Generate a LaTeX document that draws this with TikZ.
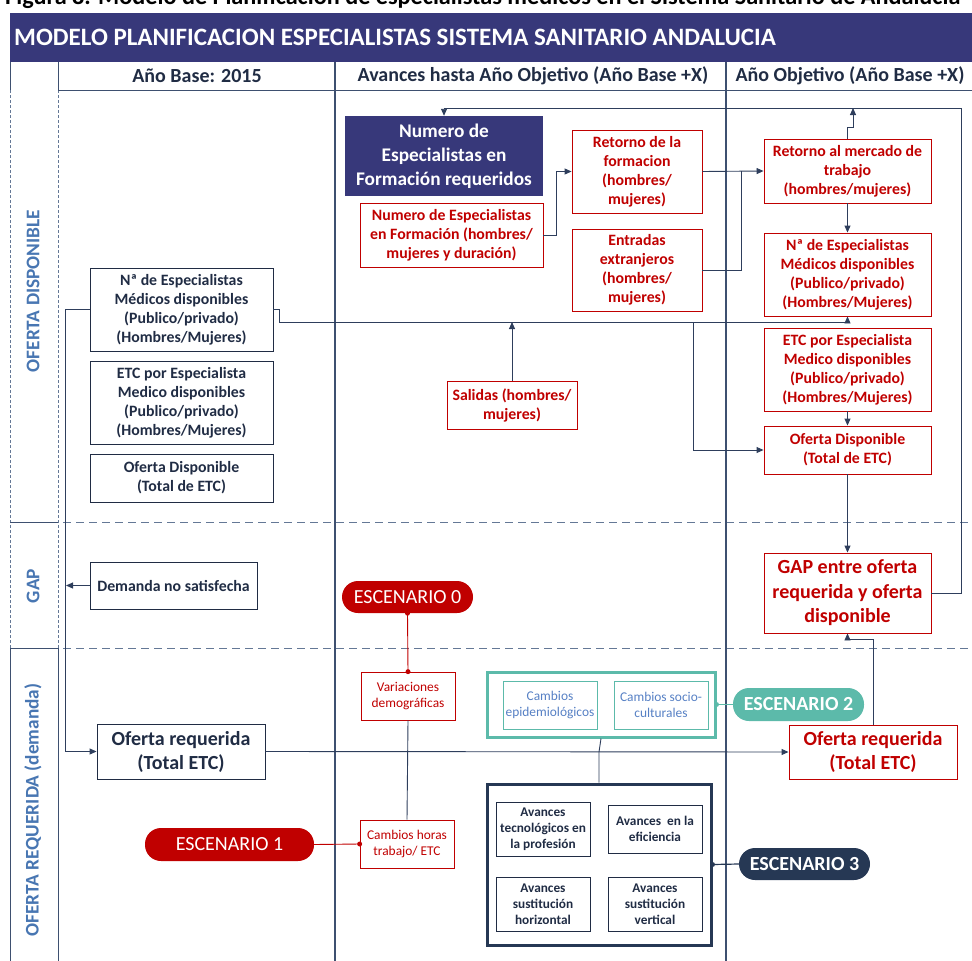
\documentclass[tikz,border=0pt]{standalone}
\usepackage{fontspec}
\setmainfont{Carlito}
\usetikzlibrary{arrows.meta}
\definecolor{band}{RGB}{55,56,122}
\definecolor{ink}{RGB}{32,44,68}
\definecolor{rule}{RGB}{62,80,112}
\definecolor{lanedash}{RGB}{100,120,150}
\definecolor{scred}{RGB}{192,0,0}
\definecolor{lane}{RGB}{72,118,178}
\definecolor{teal}{RGB}{92,186,170}
\definecolor{tealtxt}{RGB}{86,128,196}
\definecolor{navy}{RGB}{38,56,84}
\definecolor{wire}{RGB}{46,62,92}

\tikzset{
  every node/.style={inner sep=0pt, align=center},
  sz/.style 2 args={minimum width=#1pt, minimum height=#2pt},
  basebox/.style={draw=ink, line width=0.9pt, text=ink, font=\bfseries\fontsize{15.8}{19}\selectfont},
  redbox/.style={draw=scred, line width=0.9pt, text=scred, font=\bfseries\fontsize{15.8}{19}\selectfont},
  bigred/.style={redbox, font=\bfseries\fontsize{20}{24.5}\selectfont},
  bigink/.style={basebox, font=\bfseries\fontsize{20}{24}\selectfont},
  smallred/.style={draw=scred, line width=0.7pt, text=scred, font=\fontsize{13.4}{16}\selectfont},
  smallteal/.style={draw=teal, line width=0.7pt, text=tealtxt, font=\fontsize{13.4}{16}\selectfont},
  smallink/.style={draw=ink, line width=0.8pt, text=ink, font=\bfseries\fontsize{13.3}{16}\selectfont},
  pill/.style={rounded corners=16pt, text=white},
  wirearrow/.style={draw=wire, line width=0.9pt, -{Triangle[length=7pt,width=6pt]}},
  wireline/.style={draw=wire, line width=0.9pt},
  dot/.style={circle, fill=#1, minimum size=5pt, inner sep=0pt},
  lanelabel/.style={text=lane, font=\bfseries\fontsize{19.3}{22}\selectfont, rotate=90},
  colhead/.style={text=ink, font=\bfseries\fontsize{20}{22}\selectfont},
}

\begin{document}
\begin{tikzpicture}[x=1pt, y=-1pt]
\useasboundingbox (0,0) rectangle (972,961);
\clip (0,0) rectangle (972,961);

% caption line above the frame
\node[anchor=base west, font=\bfseries\fontsize{24.2}{28}\selectfont] (caption) at (5,4.5)
  {Figura 8. Modelo de Planificacion de especialistas medicos en el Sistema Sanitario de Andalucia};

% title band
\fill[band] (10,13) rectangle (972,62);
\node[anchor=west, text=white, font=\bfseries\fontsize{25}{28}\selectfont] (title) at (14,37.5)
  {MODELO PLANIFICACION ESPECIALISTAS SISTEMA SANITARIO ANDALUCIA};

% swimlane frame
\draw[rule, line width=1pt] (10,62) -- (10,90) (58,62) -- (58,90)
  (10,648) -- (10,961) (58,648) -- (58,961);
\draw[lanedash, line width=0.9pt, dash pattern=on 3pt off 2pt]
  (10,90) -- (10,648) (58,90) -- (58,648);
\draw[rule, line width=1pt] (10,522) -- (58,522) (10,648) -- (58,648);
\draw[lanedash, line width=1pt, dash pattern=on 8pt off 5pt]
  (63,522) -- (972,522) (63,648) -- (972,648);
\draw[rule, line width=1pt] (58,90) -- (972,90);
\draw[rule, line width=1.3pt] (335,62) -- (335,961) (726,62) -- (726,961);

% column headings
\node[colhead] (h1) at (197,76) {Año Base: 2015};
\node[colhead] (h2) at (533,76) {Avances hasta Año Objetivo (Año Base +X)};
\node[colhead] (h3) at (850,76) {Año Objetivo (Año Base +X)};

% lane headings
\node[lanelabel] (l1) at (33,291) {OFERTA DISPONIBLE};
\node[lanelabel] (l2) at (33,586) {GAP};
\node[lanelabel] (l3) at (33,810) {OFERTA REQUERIDA (demanda)};

% base year column
\node[basebox, sz={183}{83}] (lN1) at (181.5,309.5)
  {Nª de Especialistas\\Médicos disponibles\\(Publico/privado)\\(Hombres/Mujeres)};
\node[basebox, sz={183}{83}] (lN2) at (181.5,402.5)
  {ETC por Especialista\\Medico disponibles\\(Publico/privado)\\(Hombres/Mujeres)};
\node[basebox, sz={183}{48}] (lN3) at (181.5,478)
  {Oferta Disponible\\(Total de ETC)};
\node[basebox, sz={167}{47}] (lDem) at (173.5,585.5) {Demanda no satisfecha};
\node[bigink, sz={168}{55}] (lOReq) at (181,751.5) {Oferta requerida\\(Total ETC)};

% progress column
\node[fill=band, text=white, font=\bfseries\fontsize{19.3}{24}\selectfont, sz={198}{80}] (numReq) at (444,156)
  {Numero de\\Especialistas en\\Formación requeridos};
\node[redbox, sz={183}{64}] (numForm) at (451.5,235)
  {Numero de Especialistas\\en Formación (hombres/\\mujeres y duración)};
\node[redbox, sz={130}{83}] (retForm) at (637,171.5)
  {Retorno de la\\formacion\\(hombres/\\mujeres)};
\node[redbox, sz={130}{82}] (entr) at (637,270)
  {Entradas\\extranjeros\\(hombres/\\mujeres)};
\node[redbox, sz={130}{48}] (sal) at (512,405) {Salidas (hombres/\\mujeres)};

% target year column
\node[redbox, sz={167}{64}] (rRet) at (847.5,171)
  {Retorno al mercado de\\trabajo\\(hombres/mujeres)};
\node[redbox, sz={167}{83}] (rN) at (847.5,274.5)
  {Nª de Especialistas\\Médicos disponibles\\(Publico/privado)\\(Hombres/Mujeres)};
\node[redbox, sz={167}{83}] (rETC) at (847.5,369.5)
  {ETC por Especialista\\Medico disponibles\\(Publico/privado)\\(Hombres/Mujeres)};
\node[redbox, sz={167}{48}] (rOD) at (847.5,450)
  {Oferta Disponible\\(Total de ETC)};
\node[bigred, sz={167}{80}] (rGAP) at (847.5,593)
  {GAP entre oferta\\requerida y oferta\\disponible};
\node[bigred, sz={168}{54}] (rOReq) at (873,752) {Oferta requerida\\(Total ETC)};

% scenario groups
\node[draw=teal, line width=3pt, sz={228}{65}] (tealGrp) at (601,704.5) {};
\node[smallteal, sz={94}{48}] (camEpi) at (550,705) {Cambios\\epidemiológicos};
\node[smallteal, sz={94}{48}] (camSoc) at (661,705) {Cambios socio-\\culturales};
\node[draw=navy, line width=3pt, sz={224}{161}] (navyGrp) at (599,864.5) {};
\node[smallink, sz={94}{54}] (av1) at (543,829) {Avances\\tecnológicos en\\la profesión};
\node[smallink, sz={94}{48}] (av2) at (655,829) {Avances\ \ en la\\eficiencia};
\node[smallink, sz={94}{54}] (av3) at (543,904) {Avances\\sustitución\\horizontal};
\node[smallink, sz={94}{54}] (av4) at (655,904) {Avances\\sustitución\\vertical};

\node[smallred, sz={94}{48}] (varDem) at (408,696) {Variaciones\\demográficas};
\node[smallred, sz={94}{48}] (camHor) at (407,844) {Cambios horas\\trabajo/ ETC};

% scenario tags
\node[pill, fill=scred, font=\fontsize{20}{22}\selectfont, sz={131}{32}] (esc0) at (407.5,597) {ESCENARIO 0};
\node[pill, fill=scred, font=\fontsize{20}{22}\selectfont, sz={169}{33}] (esc1) at (229.5,844.5) {ESCENARIO 1};
\node[pill, fill=teal, font=\bfseries\fontsize{20}{22}\selectfont, sz={131}{33}] (esc2) at (798.5,704.5) {ESCENARIO 2};
\node[pill, fill=navy, font=\bfseries\fontsize{20}{22}\selectfont, sz={131}{32}] (esc3) at (804.5,864) {ESCENARIO 3};

% junction points on the flow lines
\coordinate (jSupply) at (847.5,322);
\coordinate (jSal) at (512,322);
\coordinate (jDrop) at (693,322);
\coordinate (jTop) at (961,108);
\coordinate (jTopR) at (853,108);
\coordinate (jLeft) at (66,585.5);
\coordinate (jGap) at (847.5,639);
\coordinate (jMid) at (599,752);

% flows
\draw[wirearrow] (lN1.west) -- ++(-24,0) |- (lOReq.west);
\draw[wirearrow] (lDem.west) -- (jLeft);
\draw[wirearrow] (lN1.east) -- ++(6,0) |- (jSupply) -- (rN.south);
\draw[wirearrow] (sal.north) -- (jSal);
\draw[wirearrow] (jDrop) |- (rOD.west);
\draw[wirearrow] (rGAP.east) -| (jTop) -| (numReq.north);
\draw[wirearrow] (rRet.north) -- ++(0,-11) -| (jTopR);
\draw[wirearrow] (numForm.east) -- ++(13,0) |- (retForm.west);
\draw[wirearrow] (retForm.east) -- (rRet.west);
\draw[wireline] (entr.east) -| (741,171);
\draw[wirearrow] (rRet.south) -- (rN.north);
\draw[wirearrow] (rETC.south) -- (rOD.north);
\draw[wirearrow] (rOD.south) -- (rGAP.north);
\draw[wirearrow] (rOReq.north) |- (jGap) -- (rGAP.south);
\draw[wirearrow] (lOReq.east) -- (rOReq.west);

% scenario links
\draw[scred, line width=0.9pt] (esc0.south) -- (varDem.north);
\node[dot=scred] (d0a) at (esc0.south) {};
\node[dot=scred] (d0b) at (varDem.north) {};
\draw[wireline] (varDem.south) -- (camHor.north);
\draw[scred, line width=0.9pt] (esc1.east) -- (camHor.west);
\node[dot=scred] (d1) at (camHor.west) {};
\draw[teal, line width=1.2pt] (tealGrp.east) -- (esc2.west);
\node[dot=teal] (d2) at (tealGrp.east) {};
\draw[wireline] (tealGrp.south) -- (jMid) -- (navyGrp.north);
\draw[navy, line width=1.2pt] (navyGrp.east) -- (esc3.west);
\node[dot=navy] (d3) at (navyGrp.east) {};
\end{tikzpicture}
\end{document}
